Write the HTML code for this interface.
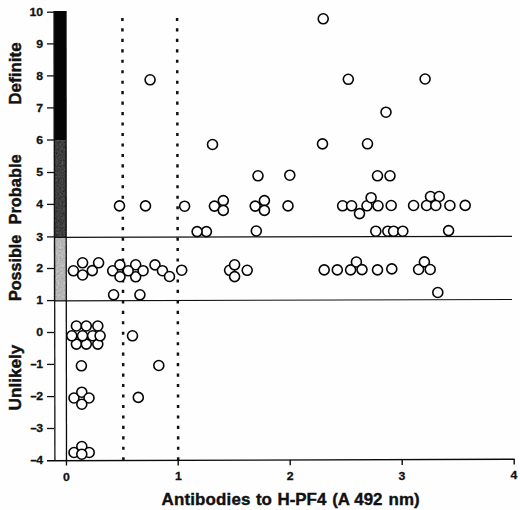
<!DOCTYPE html>
<html lang="en"><head><meta charset="utf-8"><title>Antibodies to H-PF4</title>
<style>
html,body{margin:0;padding:0;background:#fefefe;}
body{width:520px;height:510px;overflow:hidden;}
svg{display:block;}
text{font-family:"Liberation Sans",sans-serif;font-weight:bold;fill:#111;}
.tk{font-size:11.7px;stroke:#111;stroke-width:0.3px;}
.dash{stroke-width:0.8px;}
.lab{font-size:17.3px;stroke:#111;stroke-width:0.45px;}
.ttl{font-size:16.9px;stroke:#111;stroke-width:0.4px;}
.c{fill:#fefefe;stroke:#050505;stroke-width:1.6;}
</style></head><body>
<svg width="520" height="510" viewBox="0 0 520 510">
<rect x="0" y="0" width="520" height="510" fill="#fefefe"/>
<defs>
<filter id="nz" x="0" y="0" width="100%" height="100%" color-interpolation-filters="sRGB">
<feTurbulence type="fractalNoise" baseFrequency="0.55" numOctaves="2" seed="7" result="t"/>
<feColorMatrix in="t" type="matrix" values="0.34 0.33 0.33 0 0  0.34 0.33 0.33 0 0  0.34 0.33 0.33 0 0  0 0 0 0 1" result="g"/>
<feComposite in="SourceGraphic" in2="g" operator="arithmetic" k1="0" k2="1" k3="0.45" k4="-0.225" result="c"/>
<feComposite in="c" in2="SourceGraphic" operator="in"/>
</filter>
</defs>
<rect x="53.6" y="11" width="12.6" height="129.2" fill="#050505"/>
<rect x="53.6" y="140.2" width="12.6" height="97" fill="#3e3e3e" filter="url(#nz)"/>
<rect x="53.6" y="237.2" width="12.6" height="63.5" fill="#b6b6b6" filter="url(#nz)"/>
<line x1="54.3" y1="11" x2="54.9" y2="460.5" stroke="#111" stroke-width="1.3"/>
<line x1="65.9" y1="11" x2="66.5" y2="465.6" stroke="#0a0a0a" stroke-width="1.3"/>
<line x1="54" y1="237.3" x2="512" y2="236.3" stroke="#111" stroke-width="1.2"/>
<line x1="54" y1="300.8" x2="512" y2="299.5" stroke="#111" stroke-width="1.2"/>
<line x1="47" y1="460.8" x2="514.6" y2="459.3" stroke="#0a0a0a" stroke-width="1.4"/>
<line x1="47" y1="12.2" x2="54" y2="12.2" stroke="#111" stroke-width="1.3"/>
<text class="tk" transform="translate(43.1,15.8) scale(1.05,1)" text-anchor="end">10</text>
<line x1="47" y1="43.9" x2="54" y2="43.9" stroke="#111" stroke-width="1.3"/>
<text class="tk" transform="translate(43.1,47.5) scale(1.05,1)" text-anchor="end">9</text>
<line x1="47" y1="75.9" x2="54" y2="75.9" stroke="#111" stroke-width="1.3"/>
<text class="tk" transform="translate(43.1,79.5) scale(1.05,1)" text-anchor="end">8</text>
<line x1="47" y1="107.9" x2="54" y2="107.9" stroke="#111" stroke-width="1.3"/>
<text class="tk" transform="translate(43.1,111.5) scale(1.05,1)" text-anchor="end">7</text>
<line x1="47" y1="140.0" x2="54" y2="140.0" stroke="#111" stroke-width="1.3"/>
<text class="tk" transform="translate(43.1,143.6) scale(1.05,1)" text-anchor="end">6</text>
<line x1="47" y1="172.5" x2="54" y2="172.5" stroke="#111" stroke-width="1.3"/>
<text class="tk" transform="translate(43.1,176.1) scale(1.05,1)" text-anchor="end">5</text>
<line x1="47" y1="204.4" x2="54" y2="204.4" stroke="#111" stroke-width="1.3"/>
<text class="tk" transform="translate(43.1,208.0) scale(1.05,1)" text-anchor="end">4</text>
<line x1="47" y1="236.9" x2="54" y2="236.9" stroke="#111" stroke-width="1.3"/>
<text class="tk" transform="translate(43.1,240.5) scale(1.05,1)" text-anchor="end">3</text>
<line x1="47" y1="268.5" x2="54" y2="268.5" stroke="#111" stroke-width="1.3"/>
<text class="tk" transform="translate(43.1,272.1) scale(1.05,1)" text-anchor="end">2</text>
<line x1="47" y1="300.6" x2="54" y2="300.6" stroke="#111" stroke-width="1.3"/>
<text class="tk" transform="translate(43.1,304.2) scale(1.05,1)" text-anchor="end">1</text>
<line x1="47" y1="332.5" x2="54" y2="332.5" stroke="#111" stroke-width="1.3"/>
<text class="tk" transform="translate(43.1,336.1) scale(1.05,1)" text-anchor="end">0</text>
<line x1="47" y1="364.4" x2="54" y2="364.4" stroke="#111" stroke-width="1.3"/>
<text class="tk dash" transform="translate(36.2,367.5) scale(0.85,1)" text-anchor="end">–</text><text class="tk" transform="translate(43.1,368.0) scale(1.05,1)" text-anchor="end">1</text>
<line x1="47" y1="396.6" x2="54" y2="396.6" stroke="#111" stroke-width="1.3"/>
<text class="tk dash" transform="translate(36.2,399.7) scale(0.85,1)" text-anchor="end">–</text><text class="tk" transform="translate(43.1,400.2) scale(1.05,1)" text-anchor="end">2</text>
<line x1="47" y1="428.5" x2="54" y2="428.5" stroke="#111" stroke-width="1.3"/>
<text class="tk dash" transform="translate(36.2,431.6) scale(0.85,1)" text-anchor="end">–</text><text class="tk" transform="translate(43.1,432.1) scale(1.05,1)" text-anchor="end">3</text>
<text class="tk dash" transform="translate(36.2,463.6) scale(0.85,1)" text-anchor="end">–</text><text class="tk" transform="translate(43.1,464.1) scale(1.05,1)" text-anchor="end">4</text>
<text class="tk" transform="translate(66.4,480.5) scale(1.05,1)" text-anchor="middle">0</text>
<line x1="178.2" y1="460.4" x2="178.2" y2="465.6" stroke="#0a0a0a" stroke-width="1.4"/>
<text class="tk" transform="translate(178.3,480.2) scale(1.05,1)" text-anchor="middle">1</text>
<line x1="290.2" y1="460.0" x2="290.2" y2="465.2" stroke="#0a0a0a" stroke-width="1.4"/>
<text class="tk" transform="translate(290.2,479.8) scale(1.05,1)" text-anchor="middle">2</text>
<line x1="402.2" y1="459.7" x2="402.2" y2="464.9" stroke="#0a0a0a" stroke-width="1.4"/>
<text class="tk" transform="translate(402.0,479.5) scale(1.05,1)" text-anchor="middle">3</text>
<line x1="514.2" y1="459.3" x2="514.2" y2="464.5" stroke="#0a0a0a" stroke-width="1.4"/>
<text class="tk" transform="translate(513.9,479.1) scale(1.05,1)" text-anchor="middle">4</text>
<line x1="122.4" y1="17.9" x2="123.4" y2="460.5" stroke="#111" stroke-width="2.5" stroke-dasharray="3.1 7.36"/>
<line x1="177.1" y1="17.9" x2="178.2" y2="460.5" stroke="#111" stroke-width="2.5" stroke-dasharray="3.1 7.36"/>
<circle class="c" cx="323.2" cy="18.8" r="5"/>
<circle class="c" cx="150.1" cy="79.8" r="5"/>
<circle class="c" cx="348.3" cy="79.3" r="5"/>
<circle class="c" cx="425.1" cy="79.0" r="5"/>
<circle class="c" cx="386.0" cy="112.2" r="5"/>
<circle class="c" cx="212.5" cy="144.5" r="5"/>
<circle class="c" cx="322.5" cy="143.9" r="5"/>
<circle class="c" cx="367.5" cy="143.8" r="5"/>
<circle class="c" cx="258.0" cy="175.8" r="5"/>
<circle class="c" cx="289.8" cy="175.2" r="5"/>
<circle class="c" cx="377.5" cy="175.8" r="5"/>
<circle class="c" cx="390.0" cy="175.8" r="5"/>
<circle class="c" cx="119.5" cy="205.9" r="5"/>
<circle class="c" cx="145.5" cy="205.9" r="5"/>
<circle class="c" cx="184.6" cy="206.2" r="5"/>
<circle class="c" cx="214.4" cy="206.1" r="5"/>
<circle class="c" cx="223.3" cy="200.6" r="5"/>
<circle class="c" cx="223.3" cy="210.4" r="5"/>
<circle class="c" cx="255.2" cy="206.1" r="5"/>
<circle class="c" cx="264.4" cy="200.6" r="5"/>
<circle class="c" cx="264.4" cy="210.4" r="5"/>
<circle class="c" cx="288.0" cy="205.9" r="5"/>
<circle class="c" cx="342.6" cy="205.8" r="5"/>
<circle class="c" cx="351.6" cy="205.8" r="5"/>
<circle class="c" cx="359.5" cy="213.6" r="5"/>
<circle class="c" cx="367.0" cy="205.8" r="5"/>
<circle class="c" cx="378.0" cy="205.8" r="5"/>
<circle class="c" cx="371.1" cy="197.7" r="5"/>
<circle class="c" cx="391.2" cy="205.5" r="5"/>
<circle class="c" cx="413.6" cy="205.5" r="5"/>
<circle class="c" cx="426.6" cy="205.5" r="5"/>
<circle class="c" cx="430.5" cy="196.5" r="5"/>
<circle class="c" cx="439.2" cy="196.5" r="5"/>
<circle class="c" cx="435.8" cy="205.5" r="5"/>
<circle class="c" cx="449.9" cy="205.5" r="5"/>
<circle class="c" cx="465.2" cy="205.4" r="5"/>
<circle class="c" cx="206.4" cy="231.6" r="5"/>
<circle class="c" cx="197.1" cy="231.6" r="5"/>
<circle class="c" cx="256.3" cy="231.0" r="5"/>
<circle class="c" cx="375.8" cy="231.2" r="5"/>
<circle class="c" cx="387.8" cy="231.2" r="5"/>
<circle class="c" cx="393.6" cy="231.2" r="5"/>
<circle class="c" cx="402.8" cy="231.2" r="5"/>
<circle class="c" cx="448.6" cy="230.6" r="5"/>
<circle class="c" cx="73.4" cy="270.8" r="5"/>
<circle class="c" cx="82.6" cy="262.8" r="5"/>
<circle class="c" cx="82.6" cy="275.0" r="5"/>
<circle class="c" cx="92.3" cy="270.6" r="5"/>
<circle class="c" cx="98.6" cy="262.8" r="5"/>
<circle class="c" cx="112.7" cy="270.8" r="5"/>
<circle class="c" cx="119.9" cy="264.9" r="5"/>
<circle class="c" cx="120.0" cy="276.7" r="5"/>
<circle class="c" cx="135.7" cy="264.8" r="5"/>
<circle class="c" cx="135.7" cy="276.8" r="5"/>
<circle class="c" cx="128.2" cy="270.8" r="5"/>
<circle class="c" cx="143.1" cy="270.7" r="5"/>
<circle class="c" cx="155.0" cy="264.9" r="5"/>
<circle class="c" cx="162.4" cy="270.7" r="5"/>
<circle class="c" cx="169.5" cy="276.5" r="5"/>
<circle class="c" cx="181.7" cy="270.2" r="5"/>
<circle class="c" cx="229.6" cy="270.3" r="5"/>
<circle class="c" cx="234.6" cy="264.8" r="5"/>
<circle class="c" cx="234.6" cy="276.6" r="5"/>
<circle class="c" cx="247.2" cy="270.3" r="5"/>
<circle class="c" cx="324.2" cy="269.9" r="5"/>
<circle class="c" cx="337.3" cy="269.9" r="5"/>
<circle class="c" cx="350.6" cy="269.9" r="5"/>
<circle class="c" cx="356.4" cy="262.0" r="5"/>
<circle class="c" cx="362.0" cy="269.6" r="5"/>
<circle class="c" cx="377.5" cy="269.9" r="5"/>
<circle class="c" cx="391.8" cy="268.9" r="5"/>
<circle class="c" cx="418.6" cy="269.5" r="5"/>
<circle class="c" cx="424.4" cy="261.9" r="5"/>
<circle class="c" cx="430.2" cy="269.5" r="5"/>
<circle class="c" cx="113.6" cy="294.8" r="5"/>
<circle class="c" cx="139.9" cy="294.8" r="5"/>
<circle class="c" cx="437.8" cy="292.5" r="5"/>
<circle class="c" cx="76.4" cy="326.0" r="5"/>
<circle class="c" cx="86.3" cy="326.0" r="5"/>
<circle class="c" cx="97.8" cy="326.0" r="5"/>
<circle class="c" cx="76.4" cy="344.1" r="5"/>
<circle class="c" cx="86.3" cy="344.1" r="5"/>
<circle class="c" cx="97.8" cy="344.1" r="5"/>
<circle class="c" cx="71.8" cy="335.8" r="5"/>
<circle class="c" cx="82.5" cy="335.8" r="5"/>
<circle class="c" cx="92.6" cy="335.8" r="5"/>
<circle class="c" cx="100.1" cy="335.8" r="5"/>
<circle class="c" cx="132.5" cy="335.8" r="5"/>
<circle class="c" cx="81.4" cy="365.8" r="5"/>
<circle class="c" cx="158.8" cy="365.5" r="5"/>
<circle class="c" cx="74.0" cy="398.0" r="5"/>
<circle class="c" cx="81.8" cy="392.2" r="5"/>
<circle class="c" cx="89.0" cy="398.0" r="5"/>
<circle class="c" cx="81.8" cy="404.2" r="5"/>
<circle class="c" cx="138.3" cy="397.4" r="5"/>
<circle class="c" cx="74.0" cy="452.5" r="5"/>
<circle class="c" cx="81.8" cy="446.5" r="5"/>
<circle class="c" cx="89.2" cy="452.5" r="5"/>
<circle class="c" cx="81.8" cy="454.2" r="5"/>
<text class="lab" transform="translate(20.9,104.8) rotate(-90)" textLength="62.6" lengthAdjust="spacingAndGlyphs">Definite</text>
<text class="lab" transform="translate(20.9,224.5) rotate(-90)" textLength="70.2" lengthAdjust="spacingAndGlyphs">Probable</text>
<text class="lab" transform="translate(20.9,301.0) rotate(-90)" textLength="66.2" lengthAdjust="spacingAndGlyphs">Possible</text>
<text class="lab" transform="translate(20.9,410.4) rotate(-90)" textLength="65.8" lengthAdjust="spacingAndGlyphs">Unlikely</text>
<text class="ttl" y="504.9"><tspan x="161.6" textLength="88.8" lengthAdjust="spacing">Antibodies</tspan> <tspan x="256.0">to</tspan> <tspan x="277.5">H-PF4</tspan> <tspan x="332.2">(A</tspan> <tspan x="354.3">492</tspan> <tspan x="388.6">nm)</tspan></text>
</svg>
</body></html>
